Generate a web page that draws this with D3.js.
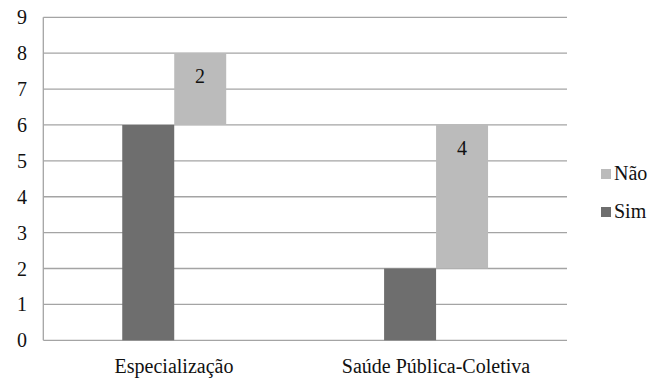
<!DOCTYPE html>
<html>
<head>
<meta charset="utf-8">
<script src="https://cdn.jsdelivr.net/npm/d3@7"></script>
<style>
  html, body { margin: 0; padding: 0; background: #fff; }
  svg { display: block; }
</style>
</head>
<body>
<svg id="chart" width="666" height="378"></svg>
<script>
// Categories and series values
const categories = ["Especialização", "Saúde Pública-Coletiva"];
const simValues = [6, 2];
const naoValues = [2, 4];
const seriesNames = ["Sim", "Não"];
const yTicks = [0, 1, 2, 3, 4, 5, 6, 7, 8, 9];

const colors = { "Sim": "#6e6e6e", "Não": "#bbbbbb" };
const gridColor = "#a4a4a4";
const fontFamily = "Liberation Serif";
const fontSize = 20;

const margin = { left: 43.3, right: 99, top: 17.3, bottom: 37.7 };
const W = 666, H = 378;

const svg = d3.select("#chart");

const x = d3.scaleBand()
  .domain(categories)
  .range([margin.left, W - margin.right]);

const y = d3.scaleLinear()
  .domain([0, 9])
  .range([H - margin.bottom, margin.top]);

const barW = x.bandwidth() * 0.1985;

// Stack "Não" on top of "Sim"
const rows = categories.map((c, i) => ({ cat: c, "Sim": simValues[i], "Não": naoValues[i] }));
const stacked = d3.stack().keys(seriesNames)(rows);

// Horizontal gridlines
svg.append("g")
  .selectAll("line")
  .data(yTicks)
  .join("line")
  .attr("x1", margin.left)
  .attr("x2", W - margin.right)
  .attr("y1", d => y(d))
  .attr("y2", d => y(d))
  .attr("stroke", gridColor)
  .attr("stroke-width", 1.3);

// Vertical axis line
svg.append("line")
  .attr("x1", margin.left).attr("x2", margin.left)
  .attr("y1", y(0)).attr("y2", y(9))
  .attr("stroke", gridColor)
  .attr("stroke-width", 1.3);

function label(sel) {
  return sel
    .attr("font-family", fontFamily)
    .attr("font-size", fontSize)
    .attr("fill", "#111");
}

// Y tick labels
svg.append("g")
  .selectAll("text")
  .data(yTicks)
  .join("text")
  .call(label)
  .attr("text-anchor", "end")
  .attr("x", 27)
  .attr("y", d => Math.round(y(d) + 7))
  .text(d => d);

// Bars: Sim sits left of the category centre, Não right of it
const offset = { "Sim": -barW, "Não": 0 };
stacked.forEach(layer => {
  svg.append("g")
    .selectAll("rect")
    .data(layer)
    .join("rect")
    .attr("x", d => x(d.data.cat) + x.bandwidth() / 2 + offset[layer.key])
    .attr("width", barW)
    .attr("y", d => y(d[1]))
    .attr("height", d => y(d[0]) - y(d[1]))
    .attr("fill", colors[layer.key]);
});

// Value labels on the Não bars
const naoLayer = stacked.find(l => l.key === "Não");
svg.append("g")
  .selectAll("text")
  .data(naoLayer)
  .join("text")
  .call(label)
  .attr("text-anchor", "middle")
  .attr("x", d => Math.round(x(d.data.cat) + x.bandwidth() / 2 + barW / 2))
  .attr("y", d => Math.round(y(d[1]) + 30))
  .text(d => d[1] - d[0]);

// Category labels
svg.append("g")
  .selectAll("text")
  .data(categories)
  .join("text")
  .call(label)
  .attr("text-anchor", "middle")
  .attr("x", d => Math.round(x(d) + x.bandwidth() / 2))
  .attr("y", 373)
  .text(d => d);

// Legend (Não above Sim)
const legendItems = ["Não", "Sim"];
legendItems.forEach((name, i) => {
  const top = 169 + i * 38;
  svg.append("rect")
    .attr("x", 601)
    .attr("y", top)
    .attr("width", 10)
    .attr("height", 10)
    .attr("fill", colors[name]);
  svg.append("text")
    .call(label)
    .attr("x", 614)
    .attr("y", top + 11)
    .text(name);
});
</script>
</body>
</html>
